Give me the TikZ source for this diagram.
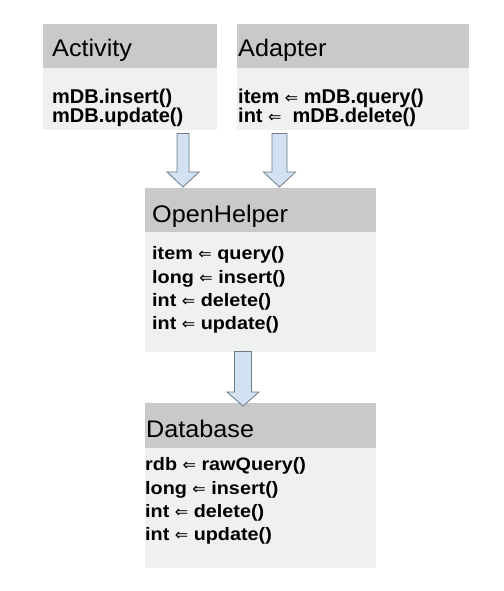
\documentclass[tikz,border=0pt]{standalone}
\usepackage{fontspec}
\setmainfont{Liberation Sans}
\newfontfamily\hfont[FakeStretch=1.05]{Liberation Sans}
\newfontfamily\bfontA[FakeStretch=1.0]{Liberation Sans}
\newfontfamily\bfontB[FakeStretch=1.1]{Liberation Sans}
\newfontfamily\arrfont{DejaVu Sans}
\usetikzlibrary{calc}
\definecolor{hdrgray}{RGB}{200,201,200}
\definecolor{bodygray}{RGB}{239,240,240}
\definecolor{arrfill}{RGB}{210,226,242}
\definecolor{arrline}{RGB}{110,122,134}
\newcommand\myarr{{\arrfont\mdseries\fontsize{16}{16}\selectfont ⇐}}
% #1 from, #2 to, #3 centre x, #4 shaft half width, #5 top gap, #6 tip offset, #7 head length
\newcommand\blockarr[7]{%
  \draw[barrow] let \p1=(#1.south), \p2=(#2.north) in
   ({#3pt-#4pt},{\y1-#5pt}) -- ({#3pt+#4pt},{\y1-#5pt})
   -- ({#3pt+#4pt},{\y2+#6pt+#7pt}) -- ({#3pt+16pt},{\y2+#6pt+#7pt})
   -- (#3pt,{\y2+#6pt}) -- ({#3pt-16pt},{\y2+#6pt+#7pt})
   -- ({#3pt-#4pt},{\y2+#6pt+#7pt}) -- cycle;}
\tikzset{
  hdr/.style={fill=hdrgray, inner sep=0pt, anchor=north west},
  bdy/.style={fill=bodygray, inner sep=0pt, anchor=north west},
  htext/.style={anchor=base west, inner sep=0pt, font=\hfont\fontsize{24}{24}\selectfont},
  btextA/.style={anchor=base west, inner sep=0pt, font=\bfontA\bfseries\fontsize{20}{20}\selectfont},
  btextB/.style={anchor=base west, inner sep=0pt, font=\bfontB\bfseries\fontsize{18}{18}\selectfont},
  barrow/.style={draw=arrline, fill=arrfill, line width=0.8pt, line join=miter}
}
\begin{document}
\begin{tikzpicture}[x=1pt,y=-1pt]
\useasboundingbox[fill=white] (0,0) rectangle (503,591);
% Activity
\node[hdr, minimum width=174pt, minimum height=44pt] (acth) at (43,24) {};
\node[bdy, minimum width=174pt, minimum height=62pt] (actb) at (43,68) {};
\node[htext] (actt) at (52,57) {Activity};
\node[btextA] (act1) at (52,103) {mDB.insert()};
\node[btextA] (act2) at (52,122) {mDB.update()};
% Adapter
\node[hdr, minimum width=232pt, minimum height=44pt] (adph) at (237,24) {};
\node[bdy, minimum width=232pt, minimum height=62pt] (adpb) at (237,68) {};
\node[htext] (adpt) at (238,57) {Adapter};
\node[btextA] (adp1) at (238,103) {item \myarr{} mDB.query()};
\node[btextA] (adp2) at (238,122) {int \myarr{} \ mDB.delete()};
% OpenHelper
\node[hdr, minimum width=231pt, minimum height=44pt] (oph) at (145,188) {};
\node[bdy, minimum width=231pt, minimum height=120pt] (opb) at (145,232) {};
\node[htext] (opt) at (152,222) {OpenHelper};
\node[btextB] (op1) at (152,259) {item \myarr{} query()};
\node[btextB] (op2) at (152,283) {long \myarr{} insert()};
\node[btextB] (op3) at (152,306) {int \myarr{} delete()};
\node[btextB] (op4) at (152,329) {int \myarr{} update()};
% Database
\node[hdr, minimum width=231pt, minimum height=45pt] (dbh) at (145,403) {};
\node[bdy, minimum width=231pt, minimum height=120pt] (dbb) at (145,448) {};
\node[htext] (dbt) at (146,437) {Database};
\node[btextB] (db1) at (145,470) {rdb \myarr{} rawQuery()};
\node[btextB] (db2) at (145,494) {long \myarr{} insert()};
\node[btextB] (db3) at (145,517) {int \myarr{} delete()};
\node[btextB] (db4) at (145,540) {int \myarr{} update()};
% block arrows
\blockarr{actb}{oph}{183}{6}{3}{1}{15}
\blockarr{adpb}{oph}{279.5}{7.5}{3}{1}{15}
\blockarr{opb}{dbh}{243}{8.5}{-1}{-3}{14}
\end{tikzpicture}
\end{document}
